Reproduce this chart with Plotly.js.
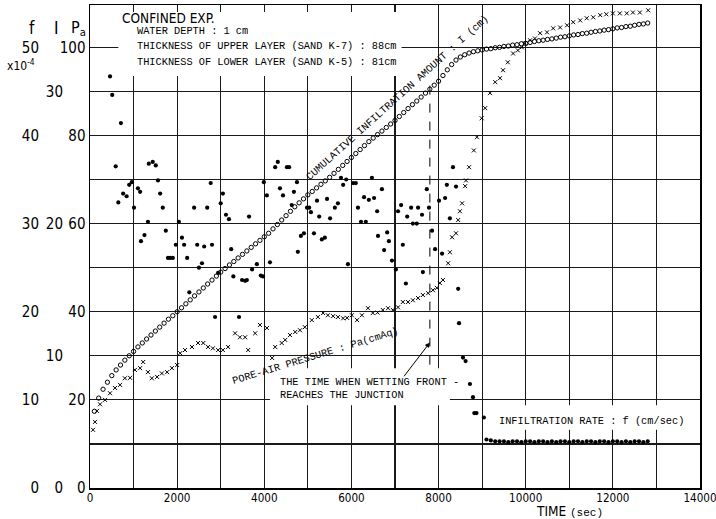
<!DOCTYPE html>
<html>
<head>
<meta charset="utf-8">
<script src="https://cdn.plot.ly/plotly-3.0.1.min.js"></script>
<style>
  html, body { margin: 0; padding: 0; background: #fff; }
  #chart { width: 716px; height: 519px; }
</style>
</head>
<body>
<div id="chart"></div>
<script>
// ---------- DATA ----------
// Cumulative infiltration amount I (cm)
const timeI = [100,200,300,400,500,600,700,800,900,1000,1100,1200,1300,1400,1500,1600,1700,1800,1900,2000,
  2100,2200,2300,2400,2500,2600,2700,2800,2900,3000,3100,3200,3300,3400,3500,3600,3700,3800,3900,4000,
  4100,4200,4300,4400,4500,4600,4700,4800,4900,5000,5100,5200,5300,5400,5500,5600,5700,5800,5900,6000,
  6100,6200,6300,6400,6500,6600,6700,6800,6900,7000,7100,7200,7300,7400,7500,7600,7700,7800,7900,8000,
  8100,8200,8300,8400,8500,8600,8700,8800,8900,9000,9100,9200,9300,9400,9500,9600,9700,9800,9900,10000,
  10100,10200,10300,10400,10500,10600,10700,10800,10900,11000,11100,11200,11300,11400,11500,11600,11700,11800,11900,12000,
  12100,12200,12300,12400,12500,12600,12700,12800];
const cumInfiltration = [5.80,6.80,7.47,8.00,8.50,8.93,9.30,9.67,10.00,10.33,10.67,10.97,11.27,11.57,11.87,12.17,12.47,12.77,13.03,13.33,
  13.63,13.93,14.23,14.53,14.83,15.13,15.43,15.73,16.03,16.33,16.60,16.87,17.13,17.40,17.67,17.93,18.20,18.47,18.73,19.00,
  19.27,19.60,19.93,20.27,20.60,20.93,21.27,21.57,21.87,22.17,22.43,22.70,22.97,23.23,23.50,23.80,24.10,24.40,24.70,25.00,
  25.30,25.60,25.90,26.20,26.47,26.73,27.00,27.27,27.53,27.80,28.10,28.40,28.70,29.00,29.27,29.57,29.87,30.17,30.47,30.77,
  31.20,31.63,32.03,32.37,32.60,32.77,32.90,33.00,33.07,33.13,33.20,33.23,33.30,33.33,33.40,33.43,33.50,33.53,33.60,33.63,
  33.70,33.77,33.83,33.87,33.93,33.97,34.03,34.10,34.13,34.20,34.27,34.30,34.37,34.40,34.47,34.53,34.57,34.63,34.67,34.73,
  34.80,34.83,34.90,34.93,35.00,35.07,35.10,35.17];

// Pore-air pressure Pa (cmAq)
const timePa = [70,115,160,230,345,460,575,690,800,920,1030,1150,1220,1330,1420,1540,1650,1770,1880,2000,
  2070,2180,2340,2480,2600,2710,2820,2940,3050,3170,3330,3440,3560,3630,3790,3900,4060,4180,4250,4400,
  4480,4590,4710,4820,4930,5090,5230,5350,5460,5580,5690,5810,5900,6010,6130,6240,6380,6490,6600,6720,
  6840,6950,7070,7180,7300,7410,7530,7640,7760,7870,7960,8030,8100,8220,8260,8310,8400,8450,8490,8540,
  8610,8630,8700,8810,8880,8990,9070,9180,9300,9410,9480,9590,9710,9820,9910,9980,10100,10210,10330,10490,
  10630,10790,10950,11090,11250,11400,11550,11710,11850,12000,12160,12320,12460,12620,12810];
const poreAirPressure = [13.2,15.0,17.5,19.0,20.0,21.5,22.7,23.4,24.9,25.0,26.8,27.2,28.6,26.3,24.9,25.2,26.0,26.3,27.2,27.9,
  30.6,31.3,32.0,32.9,32.9,32.0,31.7,31.3,31.3,32.0,35.1,34.2,34.2,31.3,35.1,37.0,36.3,29.5,32.0,32.9,
  33.6,34.7,35.4,35.8,36.5,38.1,38.8,39.7,39.2,39.0,38.8,38.5,38.6,39.2,38.1,39.2,40.8,39.7,39.8,40.4,
  40.8,40.4,41.0,42.2,42.2,42.6,43.1,43.8,44.2,44.9,45.4,46.5,47.2,51.0,53.5,56.9,57.8,60.8,62.8,64.6,
  68.5,69.8,72.8,76.6,79.6,83.9,86.2,89.6,92.1,93.0,94.8,96.6,98.6,99.3,100.0,100.9,101.6,102.0,103.2,103.4,
  104.3,104.5,105.0,105.7,106.1,106.6,106.8,107.3,107.5,107.7,107.7,107.7,107.9,107.9,108.4];

// Infiltration rate f (x10^-4 cm/sec)
const timeF = [460,510,590,650,710,760,840,900,960,1010,1100,1150,1170,1250,1330,1350,1440,1510,1560,1610,
  1670,1740,1790,1840,1900,1970,2040,2110,2160,2230,2280,2390,2460,2500,2570,2620,2690,2770,2800,2870,
  2940,3000,3050,3120,3190,3240,3290,3420,3490,3560,3600,3650,3720,3830,3920,3970,3990,4060,4130,4250,
  4310,4360,4430,4520,4570,4630,4680,4750,4770,4840,4910,4980,5030,5070,5140,5210,5260,5320,5390,5440,
  5510,5620,5690,5760,5810,5880,5920,6040,6100,6150,6220,6290,6330,6400,6470,6520,6590,6610,6700,6750,
  6820,6860,6930,7020,7070,7140,7180,7250,7280,7370,7410,7500,7530,7620,7640,7730,7780,7850,7920,8010,
  8080,8150,8190,8260,8330,8400,8450,8470,8560,8620,8720,8790,8820,8870,9040,
  9100,9200,9300,9400,9500,9600,9700,9800,9900,10000,10100,10200,10300,10400,10500,10600,10700,10800,10900,11000,
  11100,11200,11300,11400,11500,11600,11700,11800,11900,12000,12100,12200,12300,12400,12500,12600,12700,12800];
const infiltrationRate = [46.7,44.6,36.5,32.4,41.4,33.4,33.1,34.4,34.7,31.8,34.0,33.6,28.0,28.7,30.2,36.8,37.0,36.6,34.9,33.4,
  31.8,29.2,26.1,26.1,26.1,27.6,30.2,28.4,27.6,26.1,22.2,31.8,27.6,25.0,25.5,27.4,31.8,34.6,27.6,19.4,
  24.4,32.3,33.4,31.0,30.5,27.1,24.0,19.4,23.6,23.5,23.6,30.8,24.8,25.4,24.1,24.0,34.7,33.2,25.6,36.4,
  37.0,34.0,33.2,36.4,36.4,32.1,33.6,34.7,26.8,28.6,28.9,31.8,31.8,31.3,28.9,32.6,30.8,28.2,28.4,32.8,
  30.6,31.8,32.3,35.2,34.4,35.0,25.4,34.6,34.6,31.8,30.2,33.0,30.2,32.7,35.2,32.9,31.4,28.6,33.9,27.0,
  29.0,28.0,25.8,24.8,31.4,32.1,27.6,23.2,30.8,31.8,30.0,30.0,31.8,31.0,24.5,33.9,31.8,29.2,27.1,32.6,
  26.6,32.9,34.4,30.6,36.4,34.2,22.6,18.7,14.8,14.4,11.8,10.3,8.5,8.5,8.0,
  5.5,5.4,5.3,5.3,5.3,5.2,5.3,5.3,5.2,5.3,5.3,5.2,5.3,5.3,5.2,5.3,5.2,5.3,5.3,5.2,
  5.3,5.3,5.2,5.3,5.3,5.2,5.3,5.3,5.2,5.3,5.3,5.2,5.3,5.2,5.3,5.3,5.2,5.3];

const junctionTime = 7800;

// ---------- STYLE ----------
const NARROW = '"Liberation Sans Narrow", "DejaVu Sans Condensed", "Arial Narrow", "Roboto Condensed", sans-serif';
const MONO = '"Liberation Mono", "DejaVu Sans Mono", monospace';
const INK = '#000';
const GRID = '#1a1a1a';

const traces = [
  { x: timeF, y: infiltrationRate, yaxis: 'y3', type: 'scatter', mode: 'markers', name: 'f',
    marker: { symbol: 'circle', size: 4.2, color: INK }, hoverinfo: 'skip' },
  { x: timePa, y: poreAirPressure, yaxis: 'y', type: 'scatter', mode: 'markers', name: 'Pa',
    marker: { symbol: 'x-thin', size: 4, color: INK, line: { width: 1, color: INK } }, hoverinfo: 'skip' },
  { x: timeI, y: cumInfiltration, yaxis: 'y2', type: 'scatter', mode: 'markers', name: 'I',
    marker: { symbol: 'circle-open', size: 4.3, color: INK, line: { width: 1 } }, hoverinfo: 'skip' }
];

const L = 10, R = 16, T = 5, B = 31, W = 716, H = 519;
const pw = W - L - R, ph = H - T - B;
const px = v => (v - L) / pw;          // pixel x -> paper x
const py = v => (H - B - v) / ph;      // pixel y -> paper y

const tickFont = { family: NARROW, size: 15, color: INK };
const xTickFont = { family: NARROW, size: 11.6, color: INK };
const monoFont = { family: MONO, size: 10.3, color: INK };

const layout = {
  width: W, height: H,
  margin: { l: L, r: R, t: T, b: B, pad: 0 },
  paper_bgcolor: '#fff', plot_bgcolor: '#fff',
  showlegend: false,
  xaxis: {
    domain: [px(90), 1], range: [0, 14000], tick0: 0, dtick: 2000, tickformat: 'd',
    showgrid: true, gridcolor: GRID, gridwidth: 1.2,
    minor: { dtick: 1000, showgrid: true, gridcolor: GRID, gridwidth: 1.2 },
    showline: true, mirror: true, linecolor: INK, linewidth: 1.5,
    ticks: '', zeroline: false, tickfont: xTickFont, ticklabelstandoff: -1,
    ticklabeloverflow: 'allow', anchor: 'y'
  },
  yaxis: {
    range: [0, 109.6], tick0: 0, dtick: 20,
    showgrid: true, gridcolor: GRID, gridwidth: 1.2,
    minor: { dtick: 10, showgrid: true, gridcolor: GRID, gridwidth: 1.2 },
    showline: true, mirror: true, linecolor: INK, linewidth: 1.5,
    ticks: '', zeroline: false, tickfont: tickFont, anchor: 'x'
  },
  yaxis2: {
    overlaying: 'y', anchor: 'free', position: px(63), side: 'left',
    range: [0, 109.6 / 3], tick0: 0, dtick: 10,
    showgrid: false, zeroline: false, showline: false, ticks: '', tickfont: tickFont
  },
  yaxis3: {
    overlaying: 'y', anchor: 'free', position: px(39), side: 'left',
    range: [0, 109.6 / 2], tick0: 0, dtick: 10,
    showgrid: false, zeroline: false, showline: false, ticks: '', tickfont: tickFont
  },
  shapes: [
    { type: 'rect', xref: 'x', yref: 'y', x0: 650, x1: 7150, y0: 93.5, y1: 108, layer: 'between',
      fillcolor: '#fff', line: { width: 0 } },
    { type: 'rect', xref: 'x', yref: 'y', x0: 4130, x1: 8260, y0: 18.8, y1: 27.2, layer: 'between',
      fillcolor: '#fff', line: { width: 0 } },
    { type: 'rect', xref: 'x', yref: 'y', x0: 9180, x1: 13800, y0: 13.2, y1: 18.8, layer: 'between',
      fillcolor: '#fff', line: { width: 0 } },
    { type: 'line', xref: 'x', yref: 'y', x0: junctionTime, x1: junctionTime, y0: 28, y1: 92,
      line: { color: INK, width: 1, dash: 'dash' } }
  ],
  annotations: [
    { xref: 'x', yref: 'y', x: 690, y: 106.6, xanchor: 'left', yanchor: 'middle', showarrow: false,
      text: 'CONFINED EXP.', font: { family: NARROW, size: 13.5, color: INK } },
    { xref: 'x', yref: 'y', x: 1030, y: 103.8, xanchor: 'left', yanchor: 'middle', showarrow: false,
      text: 'WATER DEPTH : 1 cm', font: monoFont },
    { xref: 'x', yref: 'y', x: 1030, y: 100.3, xanchor: 'left', yanchor: 'middle', showarrow: false,
      text: 'THICKNESS OF UPPER LAYER (SAND K-7) : 88cm', font: monoFont },
    { xref: 'x', yref: 'y', x: 1030, y: 96.7, xanchor: 'left', yanchor: 'middle', showarrow: false,
      text: 'THICKNESS OF LOWER LAYER (SAND K-5) : 81cm', font: monoFont },
    { xref: 'x', yref: 'y', x: 7046, y: 88.5, xanchor: 'center', yanchor: 'middle', showarrow: false,
      textangle: -42, text: 'CUMULATIVE INFILTRATION AMOUNT : I (cm)', font: monoFont },
    { xref: 'x', yref: 'y', x: 5164, y: 29.9, xanchor: 'center', yanchor: 'middle', showarrow: false,
      textangle: -17, text: 'PORE-AIR PRESSURE : Pa(cmAq)', font: monoFont },
    { xref: 'x', yref: 'y', x: 4315, y: 22.6, xanchor: 'left', yanchor: 'middle', align: 'left', showarrow: false,
      text: 'THE TIME WHEN WETTING FRONT -<br>REACHES THE JUNCTION', font: monoFont },
    { xref: 'x', yref: 'y', x: junctionTime, y: 33, axref: 'x', ayref: 'y', ax: 7180, ay: 25,
      showarrow: true, arrowhead: 2, arrowsize: 1, arrowwidth: 1, arrowcolor: INK, text: '' },
    { xref: 'x', yref: 'y', x: 9341, y: 15.2, xanchor: 'left', yanchor: 'middle', showarrow: false,
      text: 'INFILTRATION RATE : f (cm/sec)', font: monoFont },
    { xref: 'x', yref: 'paper', x: 11000, y: py(511), xanchor: 'center', yanchor: 'middle', showarrow: false,
      text: 'TIME <span style="font-family:' + MONO.replace(/"/g, "'") + ';font-size:11px">(sec)</span>',
      font: { family: NARROW, size: 13.5, color: INK } },
    { xref: 'paper', yref: 'paper', x: px(32), y: py(28), xanchor: 'center', yanchor: 'middle', showarrow: false,
      text: 'f', font: { family: NARROW, size: 17, color: INK } },
    { xref: 'paper', yref: 'paper', x: px(56), y: py(28), xanchor: 'center', yanchor: 'middle', showarrow: false,
      text: 'I', font: { family: NARROW, size: 17, color: INK } },
    { xref: 'paper', yref: 'paper', x: px(78), y: py(28), xanchor: 'center', yanchor: 'middle', showarrow: false,
      text: 'P<sub>a</sub>', font: { family: NARROW, size: 16, color: INK } },
    { xref: 'paper', yref: 'paper', x: px(5), y: py(65), xanchor: 'left', yanchor: 'middle', showarrow: false,
      text: 'x10<sup>-4</sup>', font: { family: NARROW, size: 12, color: INK } }
  ]
};

Plotly.newPlot('chart', traces, layout, { displayModeBar: false, staticPlot: true });
</script>
</body>
</html>
